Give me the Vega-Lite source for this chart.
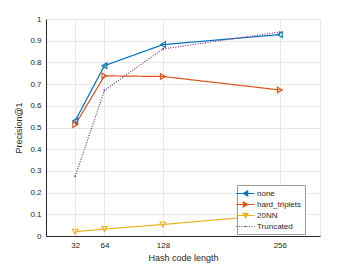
{
  "$schema": "https://vega.github.io/schema/vega-lite/v6.json",
  "autosize": "none",
  "width": 274,
  "height": 217,
  "padding": {"left": 46, "top": 19, "right": 33, "bottom": 29},
  "background": "white",
  "config": {
    "font": "Liberation Sans",
    "view": {"stroke": "#e6e6e6"},
    "axis": {
      "labelFont": "Liberation Sans",
      "titleFont": "Liberation Sans",
      "labelFontSize": 8,
      "titleFontSize": 9,
      "titleFontWeight": "normal",
      "labelColor": "#262626",
      "titleColor": "#262626",
      "gridColor": "#e8e8e8",
      "domainColor": "#262626",
      "tickColor": "#262626",
      "tickSize": 0,
      "labelPadding": 5
    }
  },
  "data": {
    "values": [
      {"series": "none", "bits": 32, "precision": 0.531},
      {"series": "none", "bits": 64, "precision": 0.785},
      {"series": "none", "bits": 128, "precision": 0.882},
      {"series": "none", "bits": 256, "precision": 0.928},
      {"series": "hard_triplets", "bits": 32, "precision": 0.513},
      {"series": "hard_triplets", "bits": 64, "precision": 0.738},
      {"series": "hard_triplets", "bits": 128, "precision": 0.735},
      {"series": "hard_triplets", "bits": 256, "precision": 0.673},
      {"series": "20NN", "bits": 32, "precision": 0.02},
      {"series": "20NN", "bits": 64, "precision": 0.032},
      {"series": "20NN", "bits": 128, "precision": 0.053},
      {"series": "20NN", "bits": 256, "precision": 0.1},
      {"series": "Truncated", "bits": 32, "precision": 0.275},
      {"series": "Truncated", "bits": 64, "precision": 0.671},
      {"series": "Truncated", "bits": 128, "precision": 0.862},
      {"series": "Truncated", "bits": 256, "precision": 0.94}
    ]
  },
  "encoding": {
    "x": {
      "field": "bits", "type": "quantitative",
      "scale": {"domain": [0, 300], "nice": false},
      "axis": {"values": [32, 64, 128, 256], "title": "Hash code length", "titlePadding": 4}
    },
    "y": {
      "field": "precision", "type": "quantitative",
      "scale": {"domain": [0, 1], "nice": false},
      "axis": {"values": [0, 0.1, 0.2, 0.3, 0.4, 0.5, 0.6, 0.7, 0.8, 0.9, 1], "title": "Precision@1", "labelExpr": "datum.value == 0 ? '0' : datum.value == 1 ? '1' : format(datum.value, '.1f')", "titlePadding": 6}
    },
    "color": {
      "field": "series", "type": "nominal",
      "scale": {
        "domain": ["none", "hard_triplets", "20NN", "Truncated"],
        "range": ["#0072BD", "#D95319", "#EDB120", "#7E2F8E"]
      },
      "legend": {
        "title": null,
        "orient": "none",
        "legendX": 191,
        "legendY": 166,
        "strokeColor": "#999999",
        "fillColor": "white",
        "padding": 3,
        "labelFontSize": 8,
        "labelFont": "Liberation Sans",
        "labelColor": "#262626",
        "symbolSize": 90,
        "rowPadding": 0,
        "labelOffset": 6,
        "symbolStrokeWidth": 1.2,
        "symbolFillColor": "transparent",
        "encode": {
          "symbols": {
            "update": {
              "shape": {"signal": "datum.value == 'none' ? 'M-1.9,0L1.9,0M0.45,-0.5L-0.45,0L0.45,0.5Z' : datum.value == 'hard_triplets' ? 'M-1.9,0L1.9,0M-0.45,-0.5L0.45,0L-0.45,0.5Z' : datum.value == '20NN' ? 'M-1.9,0L1.9,0M-0.5,-0.45L0.5,-0.45L0,0.45Z' : 'M-1.9,0L1.9,0M-0.1,0L0.1,0'"},
              "strokeDash": {"signal": "datum.value == 'Truncated' ? [1, 1.5] : [1, 0]"},
              "fill": {"value": "transparent"}
            }
          }
        }
      }
    }
  },
  "layer": [
    {
      "mark": {"type": "line", "strokeWidth": 1.2},
      "encoding": {
        "strokeDash": {
          "field": "series", "type": "nominal",
          "scale": {"domain": ["none", "hard_triplets", "20NN", "Truncated"], "range": [[1, 0], [1, 0], [1, 0], [1, 1.5]]},
          "legend": null
        }
      }
    },
    {
      "transform": [{"filter": "datum.series == 'none'"}],
      "mark": {"type": "point", "shape": "triangle-left", "filled": false, "strokeWidth": 1.1, "size": 32, "opacity": 1}
    },
    {
      "transform": [{"filter": "datum.series == 'hard_triplets'"}],
      "mark": {"type": "point", "shape": "triangle-right", "filled": false, "strokeWidth": 1.1, "size": 32, "opacity": 1}
    },
    {
      "transform": [{"filter": "datum.series == '20NN'"}],
      "mark": {"type": "point", "shape": "triangle-down", "filled": false, "strokeWidth": 1.1, "size": 32, "opacity": 1}
    },
    {
      "transform": [{"filter": "datum.series == 'Truncated'"}],
      "mark": {"type": "point", "shape": "circle", "filled": true, "size": 3, "opacity": 1}
    }
  ]
}
